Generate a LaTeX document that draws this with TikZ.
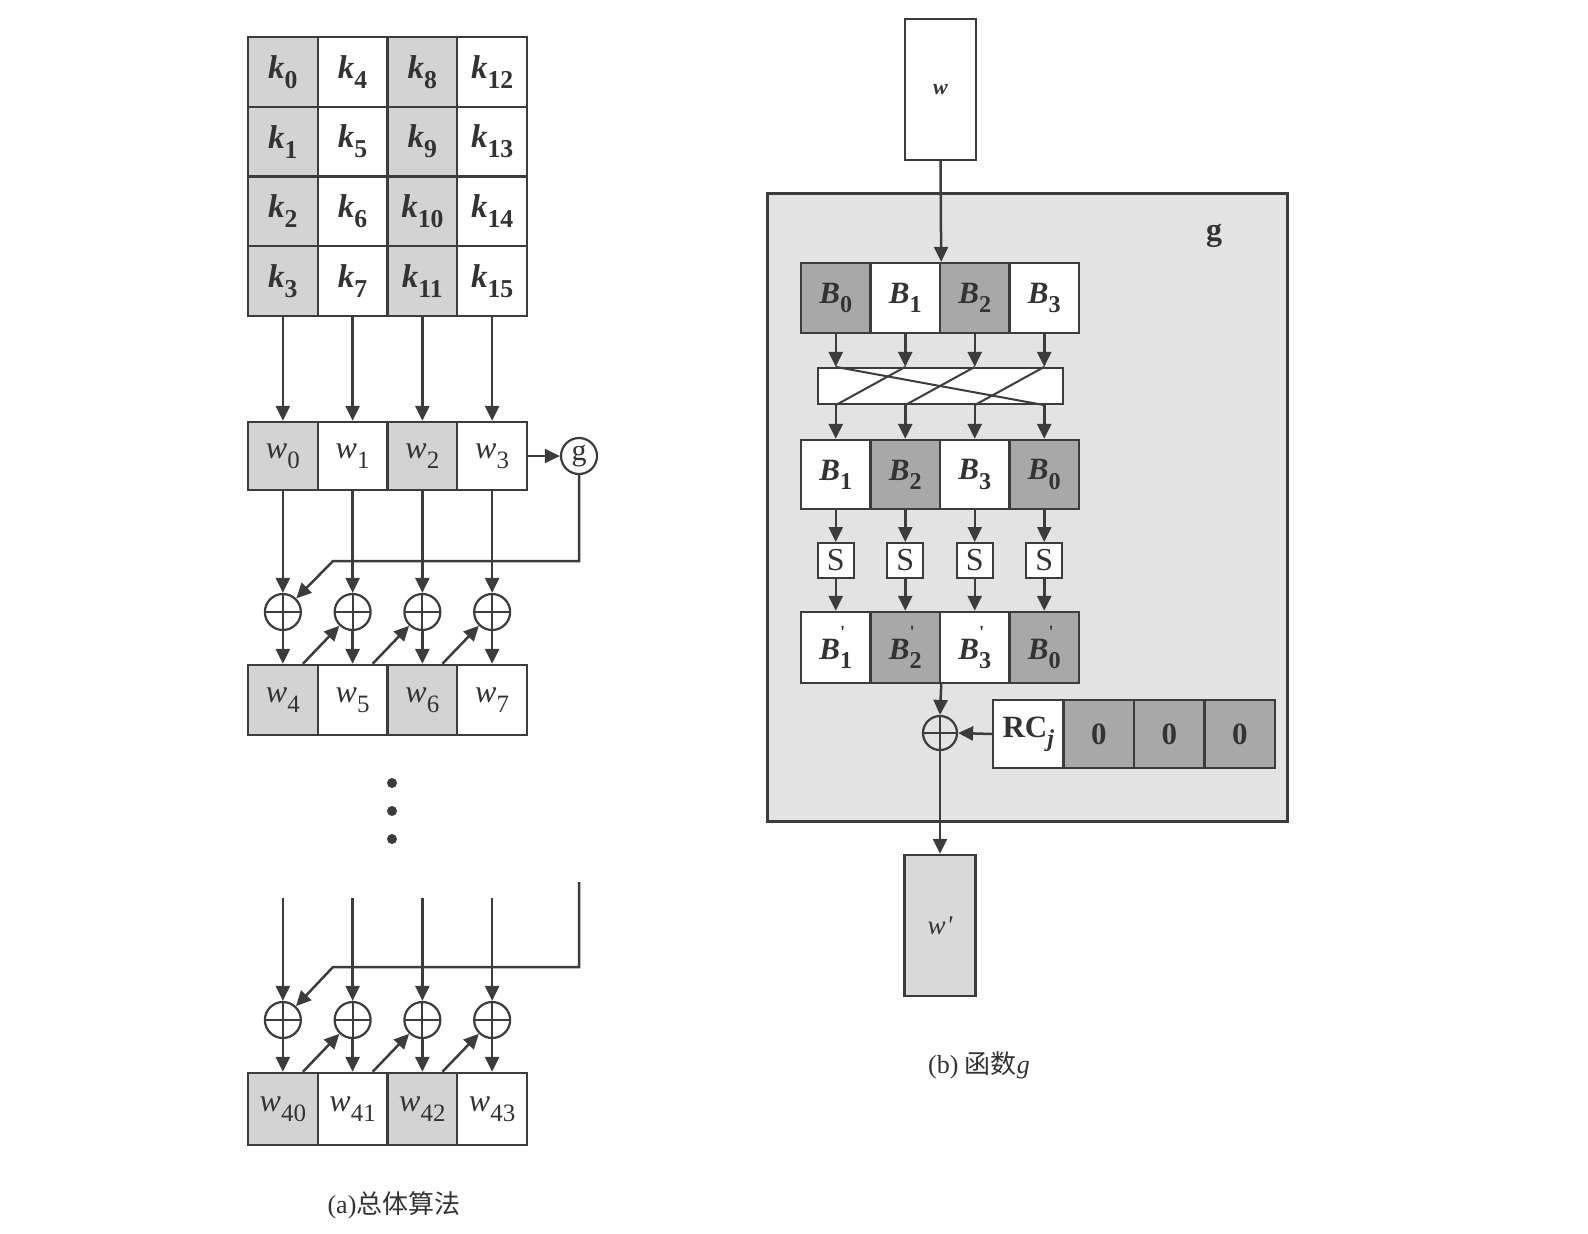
\documentclass[tikz,border=0pt]{standalone}
\usepackage{fontspec}
\setmainfont{Liberation Serif}
\newfontfamily\cjk{Noto Sans CJK SC}
\usetikzlibrary{arrows.meta,calc}
\newcommand\ms[2]{#1\raisebox{-0.3em}{\scalebox{0.78}{\upshape #2}}}
\newcommand\bpr[2]{#1\makebox[0pt][l]{\raisebox{0.66em}{\scalebox{0.6}{\upshape\textquotesingle}}}\raisebox{-0.3em}{\scalebox{0.78}{\upshape #2}}}
\definecolor{lc}{HTML}{3C3C3C}
\definecolor{tc}{HTML}{333333}
\definecolor{gl}{HTML}{D3D3D3}
\definecolor{gd}{HTML}{A8A8A8}
\definecolor{bgc}{HTML}{E3E3E3}
\definecolor{wf}{HTML}{D9D9D9}
\tikzset{
  ln/.style={draw=lc, line width=2.5pt},
  arr/.style={ln, -{Triangle[length=15pt,width=14pt]}},
  cell/.style={draw=lc, line width=2.4pt, minimum width=69.75pt, minimum height=69.75pt, inner sep=0pt, text=tc},
  kf/.style={font=\fontsize{33}{33}\selectfont\bfseries\itshape},
  wfnt/.style={font=\fontsize{32}{32}\selectfont\itshape},
  bf/.style={font=\fontsize{31}{31}\selectfont\bfseries\itshape},
  xor/.style={circle, draw=lc, line width=2.2pt, minimum size=36pt, inner sep=0pt,
    path picture={\draw[lc, line width=2pt] (path picture bounding box.north) -- (path picture bounding box.south)
      (path picture bounding box.west) -- (path picture bounding box.east);}},
  sbox/.style={draw=lc, line width=2pt, fill=white, minimum width=36pt, minimum height=35pt, inner sep=0pt,
    font=\fontsize{32}{32}\selectfont, text=tc},
}
\begin{document}
\begin{tikzpicture}[x=1pt, y=-1pt]
\useasboundingbox (0,0) rectangle (1588,1234);
% ---------- (a) ----------
\foreach \c/\fc in {0/gl,1/white,2/gl,3/white}{
  \foreach \r in {0,...,3}{
    \pgfmathtruncatemacro\idx{4*\c+\r}
    \node[cell, fill=\fc, kf] (k\idx) at ({248+69.75*(\c+0.5)}, {37+69.75*(\r+0.5)}) {\ms{k}{\idx}};
  }
  \pgfmathtruncatemacro\ia{4+\c}
  \pgfmathtruncatemacro\ib{40+\c}
  \node[cell, fill=\fc, wfnt, minimum height=68pt] (wa\c) at ({248+69.75*(\c+0.5)}, 456) {\ms{w}{\c}};
  \node[xor] (xa\c) at ({248+69.75*(\c+0.5)}, 612) {};
  \node[cell, fill=\fc, wfnt, minimum height=70pt] (wb\c) at ({248+69.75*(\c+0.5)}, 700) {\ms{w}{\ia}};
  \coordinate (t\c) at ({248+69.75*(\c+0.5)}, 898);
  \node[xor] (xb\c) at ({248+69.75*(\c+0.5)}, 1020) {};
  \node[cell, fill=\fc, wfnt, minimum height=72pt] (wc\c) at ({248+69.75*(\c+0.5)}, 1109) {\ms{w}{\ib}};
}
\foreach \c in {0,...,3}{
  \pgfmathtruncatemacro\kk{4*\c+3}
  \draw[arr] (k\kk.south) -- (wa\c.north);
  \draw[arr] (wa\c.south) -- (xa\c.north);
  \draw[arr] (xa\c.south) -- (wb\c.north);
  \draw[arr] (t\c) -- (xb\c.north);
  \draw[arr] (xb\c.south) -- (wc\c.north);
}
\foreach \c/\d in {0/1,1/2,2/3}{
  \draw[arr] ([xshift=20pt]wb\c.north) -- (xa\d);
  \draw[arr] ([xshift=20pt]wc\c.north) -- (xb\d);
}
\node[circle, draw=lc, line width=2.2pt, minimum size=36pt, inner sep=0pt,
  font=\fontsize{30}{30}\selectfont, text=tc] (gc) at (579,456) {g};
\draw[arr] (wa3.east) -- (gc);
\coordinate (ga) at (579,561);
\coordinate (gb) at (333,561);
\draw[arr] (gc.south) -- (ga) -- (gb) -- (xa0);
\coordinate (gt) at (579,882);
\coordinate (gm) at (579,967);
\coordinate (gn) at (333,967);
\draw[arr] (gt) -- (gm) -- (gn) -- (xb0);
\fill[lc] (392,783) circle (5pt);
\fill[lc] (392,811) circle (5pt);
\fill[lc] (392,839) circle (5pt);
\node[font=\fontsize{26}{26}\selectfont, text=tc] (capa) at (394,1205) {(a){\cjk 总体算法}};
% ---------- (b) ----------
\node[draw=lc, line width=2.4pt, fill=white, minimum width=71pt, minimum height=141pt, inner sep=0pt,
  font=\fontsize{22}{22}\selectfont\bfseries\itshape, text=tc] (wtop) at (940.5,89.5) {\raisebox{-6pt}{w}};
\node[draw=lc, line width=3pt, fill=bgc, minimum width=520pt, minimum height=628pt, inner sep=0pt] (gbox) at (1027,507) {};
\node[font=\fontsize{32}{32}\selectfont\bfseries, text=tc] (glab) at (1214,236) {g};
\foreach \i/\fa/\fb/\lb in {0/gd/white/1, 1/white/gd/2, 2/gd/white/3, 3/white/gd/0}{
  \node[cell, fill=\fa, bf, minimum width=69.5pt, minimum height=70pt] (ba\i) at ({801+69.5*(\i+0.5)}, 298) {\ms{B}{\i}};
  \node[cell, fill=\fb, bf, minimum width=69.5pt, minimum height=69pt] (bb\i) at ({801+69.5*(\i+0.5)}, 474.5) {\ms{B}{\lb}};
  \node[sbox] (s\i) at ({801+69.5*(\i+0.5)}, 560.5) {S};
  \node[cell, fill=\fb, bf, minimum width=69.5pt, minimum height=71pt] (bc\i) at ({801+69.5*(\i+0.5)}, 647.5) {\bpr{B}{\lb}};
}
\node[draw=lc, line width=2.2pt, fill=white, minimum width=245pt, minimum height=36pt, inner sep=0pt] (perm) at (940.5,386) {};
\draw[arr] (wtop.south) -- (ba1.north east);
\foreach \i in {0,...,3}{
  \draw[arr] (ba\i.south) -- (ba\i.south |- perm.north);
  \draw[arr] (bb\i.north |- perm.south) -- (bb\i.north);
  \draw[arr] (bb\i.south) -- (s\i.north);
  \draw[arr] (s\i.south) -- (bc\i.north);
}
\foreach \i/\j in {0/3,1/0,2/1,3/2}{
  \draw[lc, line width=2pt] (ba\i.south |- perm.north) -- (bb\j.north |- perm.south);
}
\node[xor, minimum size=34pt] (xr) at (940,733) {};
\draw[arr] (bc1.south east) -- (xr.north);
\foreach \i/\fc/\lb in {0/white/{\ms{RC}{\itshape j}}, 1/gd/0, 2/gd/0, 3/gd/0}{
  \node[cell, fill=\fc, font=\fontsize{31}{31}\selectfont\bfseries, minimum width=70.5pt, minimum height=68pt] (rc\i) at ({993+70.5*(\i+0.5)}, 734) {\lb};
}
\draw[arr] (rc0.west) -- (xr.east);
\node[draw=lc, line width=2.4pt, fill=wf, minimum width=71pt, minimum height=141pt, inner sep=0pt,
  font=\fontsize{27}{27}\selectfont\itshape, text=tc] (wout) at (940,925.5) {w\kern1pt\textquotesingle};
\draw[arr] (xr.south) -- (wout.north);
\node[font=\fontsize{26}{26}\selectfont, text=tc] (capb) at (979,1065) {(b) {\cjk 函数}\textit{g}};
\end{tikzpicture}
\end{document}
